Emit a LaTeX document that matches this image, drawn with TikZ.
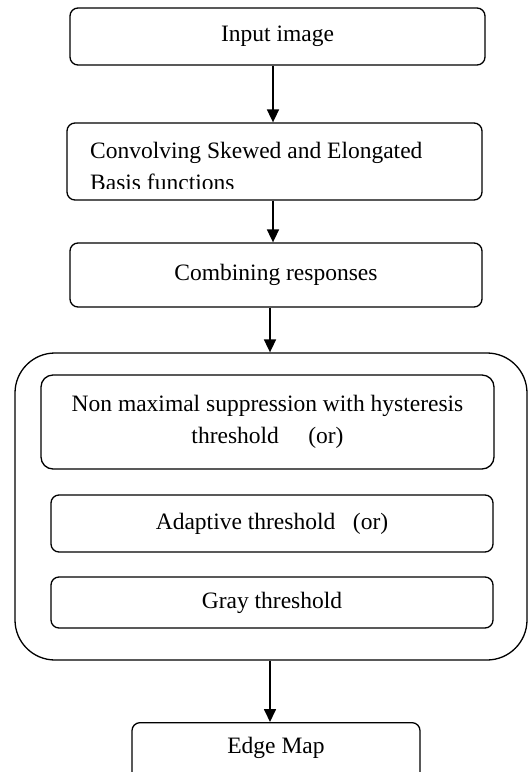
\documentclass[tikz,border=0pt]{standalone}
\usepackage{fontspec}
\setmainfont{Liberation Serif}
\usetikzlibrary{arrows.meta}
\begin{document}
\begin{tikzpicture}[x=1pt,y=-1pt,
  box/.style={draw,line width=1.3pt,rounded corners=8pt,inner sep=0pt,align=center,font=\fontsize{23.5}{32}\selectfont},
  arr/.style={line width=1.7pt,-{Triangle[length=13pt,width=12pt]}},
  txt/.style={font=\fontsize{23.5}{32}\selectfont,inner sep=0pt}]
\useasboundingbox (0,0) rectangle (530,772);
% boxes
\node[box,minimum width=415pt,minimum height=57pt] (b1) at (277.5,36.5) {Input image};
\node[box,minimum width=415pt,minimum height=77pt] (b2) at (274.5,161.5) {};
\begin{scope}
  \clip (70,125) rectangle (480,188);
  \node[txt,anchor=base west] (t2a) at (90,158) {Convolving Skewed and Elongated};
  \node[txt,anchor=base west] (t2b) at (90,190) {Basis functions};
\end{scope}
\node[box,minimum width=412pt,minimum height=64pt] (b3) at (276,275) {Combining responses};
\node[draw,line width=1.3pt,rounded corners=40pt,minimum width=512pt,minimum height=307pt,inner sep=0pt] (big) at (271,506.5) {};
\node[box,rounded corners=12pt,minimum width=453pt,minimum height=94pt] (ia) at (267.5,422) {Non maximal suppression with hysteresis\\threshold\quad\ (or)};
\node[box,minimum width=442pt,minimum height=57pt] (ib) at (272,523.5) {Adaptive threshold\ \ \ (or)};
\node[box,minimum width=442pt,minimum height=51pt] (ic) at (272,602.5) {Gray threshold};
\node[box,minimum width=288pt,minimum height=70pt,anchor=north] (b5) at (276,722) {};
\node[txt] (t5) at (276,748) {Edge Map};
% arrows
\draw[arr] (b1.south -| 273,0) -- (b2.north -| 273,0);
\draw[arr] (b2.south -| 273,0) -- (b3.north -| 273,0);
\draw[arr] (b3.south -| 270,0) -- (big.north -| 270,0);
\draw[arr] (big.south -| 270,0) -- (b5.north -| 270,0);
\end{tikzpicture}
\end{document}
